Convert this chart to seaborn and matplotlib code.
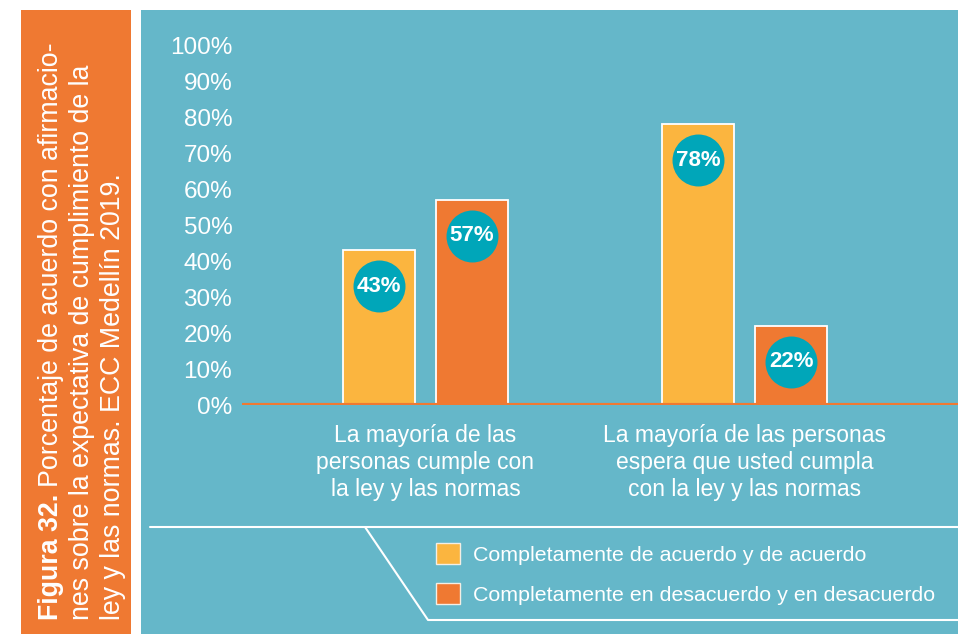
import pandas as pd
import matplotlib.pyplot as plt
import seaborn as sns
from matplotlib.patches import Rectangle, Patch
from matplotlib.lines import Line2D

#%% data
categories = [
    'La mayoría de las\npersonas cumple con\nla ley y las normas',
    'La mayoría de las personas\nespera que usted cumpla\ncon la ley y las normas',
]
series_names = [
    'Completamente de acuerdo y de acuerdo',
    'Completamente en desacuerdo y en desacuerdo',
]
acuerdo = [43, 78]
desacuerdo = [57, 22]
y_ticks = [0, 10, 20, 30, 40, 50, 60, 70, 80, 90, 100]

df = pd.DataFrame({
    'Afirmacion': categories * 2,
    'Respuesta': [series_names[0]] * 2 + [series_names[1]] * 2,
    'Porcentaje': acuerdo + desacuerdo,
})

#%% style
ORANGE = '#EF7932'
YELLOW = '#FBB53F'
TEAL_BG = '#65B7C9'
TEAL_DOT = '#00A6B9'
W, H = 958, 634

sns.set_theme(style='white')
plt.rcParams['font.family'] = ['Liberation Sans', 'DejaVu Sans']


def fx(x):
    return x / W


def fy(y):
    return 1 - y / H


fig = plt.figure(figsize=(W / 100, H / 100), dpi=100)
fig.patch.set_facecolor('white')

# background panels
fig.patches.append(Rectangle((fx(21), 0), fx(131) - fx(21), fy(10), transform=fig.transFigure,
                             facecolor=ORANGE, edgecolor='none', zorder=-2))
fig.patches.append(Rectangle((fx(141), 0), 1 - fx(141), fy(10), transform=fig.transFigure,
                             facecolor=TEAL_BG, edgecolor='none', zorder=-2))

ax = fig.add_axes([fx(242), fy(405), 1 - fx(242), fy(45) - fy(405)])
ax.set_facecolor('none')

sns.barplot(
    data=df, x='Afirmacion', y='Porcentaje', hue='Respuesta',
    order=categories, hue_order=series_names,
    palette=[YELLOW, ORANGE], width=0.582, gap=0.227, saturation=1,
    edgecolor='white', linewidth=1.3, legend=False, ax=ax, zorder=2,
)

# value bubbles
for bar in ax.patches:
    cx = bar.get_x() + bar.get_width() / 2
    val = bar.get_height()
    ax.scatter([cx], [val - 10], s=1400, color=TEAL_DOT, zorder=4, linewidths=0)
    ax.text(cx, val - 10, f'{val:.0f}%', color='white', fontsize=16, fontweight='bold',
            ha='center', va='center', zorder=5)

ax.axhline(0, color=ORANGE, lw=3, zorder=3)
ax.set_ylim(0, 100)
ax.set_xlim(-0.574, 1.667)
ax.set_yticks(y_ticks)
ax.set_yticklabels([f'{t}%' for t in y_ticks], fontsize=17.5, color='white')
ax.tick_params(axis='y', length=0, pad=7)
ax.tick_params(axis='x', length=0, pad=14)
ax.set_xticks([0, 1])
ax.set_xticklabels(categories, fontsize=16.5, color='white', linespacing=1.22)
ax.set_xlabel('')
ax.set_ylabel('')
for s in ax.spines.values():
    s.set_visible(False)

# legend frame lines
line_kw = dict(color='white', lw=1.5, transform=fig.transFigure)
fig.lines.append(Line2D([fx(150), 1], [fy(527), fy(527)], **line_kw))
fig.lines.append(Line2D([fx(365), fx(428), 1], [fy(527), fy(620), fy(620)], **line_kw))

handles = [Patch(facecolor=YELLOW, edgecolor='#F3EEE4', lw=1),
           Patch(facecolor=ORANGE, edgecolor='#F3EEE4', lw=1)]
fig.legend(handles, series_names, loc='upper left', bbox_to_anchor=(fx(436), fy(543)),
           frameon=False, fontsize=15.4, labelcolor='white', borderpad=0,
           handlelength=1.12, handleheight=1.12, handletextpad=0.6, labelspacing=0.85,
           borderaxespad=0)

# rotated title
fig.canvas.draw()
renderer = fig.canvas.get_renderer()
t_kw = dict(rotation=90, rotation_mode='anchor', ha='left', va='baseline',
            color='white', fontsize=19.3)
bold = fig.text(fx(58), fy(620), 'Figura 32.', fontweight='bold', **t_kw)
bb = bold.get_window_extent(renderer)
fig.text(fx(58), (bb.y1 + 7) / H, 'Porcentaje de acuerdo con afirmacio-', **t_kw)
fig.text(fx(89), fy(620), 'nes sobre la expectativa de cumplimiento de la', **t_kw)
fig.text(fx(120), fy(620), 'ley y las normas. ECC Medellín 2019.', **t_kw)

fig.savefig('out.png', dpi=100)
